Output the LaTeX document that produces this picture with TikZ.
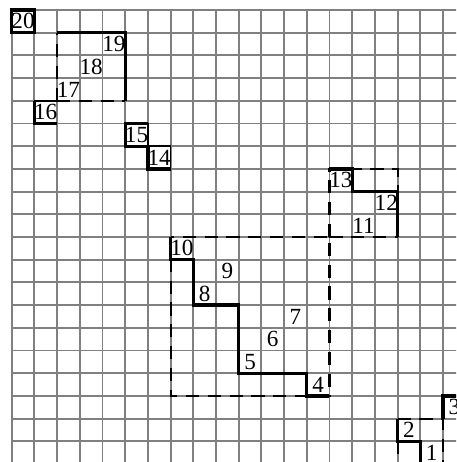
\documentclass[tikz,border=0pt]{standalone}
\usepackage{fontspec}
\setmainfont{Liberation Serif}
\begin{document}
\begin{tikzpicture}[x=1cm,y=-1cm,
  gridline/.style={draw=black!50,line width=2.3pt},
  thickline/.style={draw=black,line width=4.1pt,line join=miter},
  dashline/.style={draw=black,line width=2.6pt,dash pattern=on 0.58cm off 0.38cm},
  thinline/.style={draw=black,line width=2.2pt},
  lab/.style={inner sep=0pt,font=\fontsize{29}{34}\selectfont}]
\useasboundingbox (-0.515,-0.44) rectangle (19.573,19.912);
\clip (-0.515,-0.44) rectangle (19.573,19.912);
% grid
\draw[gridline] (0,0) grid (20,20);
% dashed blocks
\draw[dashline] (2,4) -- (2,1);
\draw[dashline] (2,4) -- (5,4);
\draw[dashline] (7,10) rectangle (14,17);
\draw[dashline] (14,10) -- (14,7) -- (17,7) -- (17,8);
\draw[dashline] (14,10) -- (17,10);
\draw[dashline] (17,19) -- (17,20);
\draw[dashline] (17,18) -- (19,18) -- (19,20);
% thin cell edges
\draw[thinline] (1,4) -- (2,4);
\draw[thinline] (6,5) -- (6,6);
\draw[thinline] (6,6) -- (7,6) -- (7,7);
% thick staircases
\draw[thickline] (0,0) rectangle (1,1);
\draw[thickline] (2,1) -- (5,1) -- (5,4);
\draw[thickline] (1,4) -- (1,5) -- (2,5);
\draw[thickline] (6,5) -- (5,5) -- (5,6) -- (6,6) -- (6,7) -- (7,7);
\draw[thickline] (14,7) -- (15,7) -- (15,8) -- (17,8) -- (17,10);
\draw[thickline] (7,10) -- (7,11) -- (8,11) -- (8,13) -- (10,13) -- (10,16) -- (13,16) -- (13,17) -- (14,17);
\draw[thickline] (20,17) -- (19,17) -- (19,18);
\draw[thickline] (17,18) -- (17,19) -- (18,19) -- (18,20);
% labels
\node[lab] (n20) at (0.5,0.5) {20};
\node[lab] (n19) at (4.5,1.5) {19};
\node[lab] (n18) at (3.5,2.5) {18};
\node[lab] (n17) at (2.5,3.5) {17};
\node[lab] (n16) at (1.5,4.5) {16};
\node[lab] (n15) at (5.5,5.5) {15};
\node[lab] (n14) at (6.5,6.5) {14};
\node[lab] (n13) at (14.5,7.5) {13};
\node[lab] (n12) at (16.5,8.5) {12};
\node[lab] (n11) at (15.5,9.5) {11};
\node[lab] (n10) at (7.5,10.5) {10};
\node[lab] (n9) at (9.5,11.5) {9};
\node[lab] (n8) at (8.5,12.5) {8};
\node[lab] (n7) at (12.5,13.5) {7};
\node[lab] (n6) at (11.5,14.5) {6};
\node[lab] (n5) at (10.5,15.5) {5};
\node[lab] (n4) at (13.5,16.5) {4};
\node[lab] (n3) at (19.5,17.5) {3};
\node[lab] (n2) at (17.5,18.5) {2};
\node[lab] (n1) at (18.5,19.5) {1};
\end{tikzpicture}
\end{document}
